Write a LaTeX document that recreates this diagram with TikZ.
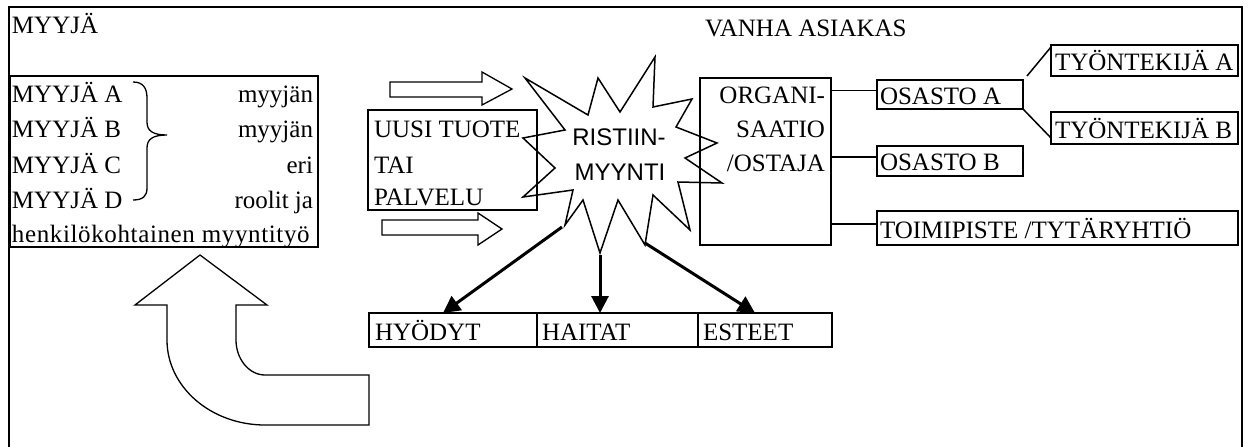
\documentclass[tikz,border=0pt]{standalone}
\usepackage{fontspec}
\setmainfont{Liberation Serif}
\newfontfamily\burstfont{Liberation Sans}
\usetikzlibrary{arrows.meta}
\begin{document}
\begin{tikzpicture}[x=1pt,y=-1pt,
  every node/.style={inner sep=0pt, outer sep=0pt},
  txt/.style={font=\fontsize{25}{30}\selectfont},
  lt/.style={txt, anchor=base west},
  rt/.style={txt, anchor=base east},
  bt/.style={font=\burstfont\fontsize{24}{28}\selectfont, anchor=base},
  cell/.style={draw, line width=2.5pt, anchor=north west},
  frame/.style={line width=2.8pt},
  link/.style={line width=1.5pt},
  burst/.style={line width=1.5pt, line join=miter},
  fat/.style={line width=3pt, -{Triangle[length=17pt,width=17pt]}},
  blockarrow/.style={draw, line width=1.3pt, line join=miter},
]
\useasboundingbox (0,0) rectangle (1250,447);

% outer frame, open at the bottom
\draw[frame] (9,447) -- (9,7) -- (1242,7) -- (1242,447);

% headings
\node[lt] (hSeller) at (12,33) {MYYJÄ};
\node[lt] (hCustomer) at (705,36) {VANHA ASIAKAS};

% sellers box
\node[cell, minimum width=308pt, minimum height=171pt] (sellers) at (10,76) {};
\node[lt] (sA) at (12,102) {MYYJÄ A};
\node[lt] (sB) at (12,137) {MYYJÄ B};
\node[lt] (sC) at (12,173) {MYYJÄ C};
\node[lt] (sD) at (12,208) {MYYJÄ D};
\node[lt] (sE) at (12,242) {\addfontfeature{LetterSpace=2.5}henkilökohtainen myyntityö};
\node[rt] (rA) at (313,102) {myyjän};
\node[rt] (rB) at (313,137) {myyjän};
\node[rt] (rC) at (313,173) {eri};
\node[rt] (rD) at (313,208) {roolit ja};
% curly brace
\draw[line width=1.3pt] (133,82) .. controls (143,82) and (147,88) .. (147,98)
  -- (147,122) .. controls (147,131) and (153,135) .. (167,135)
  .. controls (153,135) and (147,139) .. (147,148)
  -- (147,188) .. controls (147,196) and (143,200) .. (133,200);

% block arrows towards the burst
\draw[blockarrow] (390,82) -- (482,82) -- (482,72) -- (512,89) -- (482,105) -- (482,97) -- (390,97) -- cycle;
\draw[blockarrow] (382,220) -- (478,220) -- (478,213) -- (502,229) -- (478,245) -- (478,235) -- (382,235) -- cycle;

% new product box
\node[cell, minimum width=169pt, minimum height=100pt] (product) at (368,110) {};
\node[lt] (pA) at (374,137) {UUSI TUOTE};
\node[lt] (pB) at (374,173) {TAI};
\node[lt] (pC) at (374,205) {PALVELU};

% cross-selling burst
\draw[burst] (525,78) -- (588,115) -- (598,78) -- (620,112) -- (655,57) -- (653,107)
  -- (692,99) -- (676,127) -- (717,143) -- (685,158) -- (722,183) -- (678,182)
  -- (690,230) -- (653,195) -- (645,245) -- (618,200) -- (600,253) -- (583,200)
  -- (565,225) -- (573,190) -- (523,197) -- (555,168) -- (523,138) -- (565,130) -- cycle;
\node[bt] (burstA) at (619,145) {RISTIIN-};
\node[bt] (burstB) at (620,180) {MYYNTI};
\coordinate (tipL) at (562,227);
\coordinate (tipM) at (600,255);
\coordinate (tipR) at (645,243);

% organisation box
\node[cell, minimum width=131pt, minimum height=167pt] (org) at (700,78) {};
\node[rt] (oA) at (825,103) {ORGANI-};
\node[rt] (oB) at (825,137) {SAATIO};
\node[rt] (oC) at (825,171) {/OSTAJA};

% departments and employees
\node[cell, minimum width=146pt, minimum height=29pt] (osA) at (877,80) {};
\node[lt] at (880,104) {OSASTO A};
\node[cell, minimum width=146pt, minimum height=30pt] (osB) at (877,146) {};
\node[lt] at (880,170) {OSASTO B};
\node[cell, minimum width=187pt, minimum height=31pt] (tyA) at (1051,45) {};
\node[lt] at (1055,70) {TYÖNTEKIJÄ A};
\node[cell, minimum width=187pt, minimum height=32pt] (tyB) at (1051,112) {};
\node[lt] at (1055,138) {TYÖNTEKIJÄ B};
\node[cell, minimum width=361pt, minimum height=34pt] (office) at (877,211) {};
\node[lt] at (880,238) {TOIMIPISTE /TYTÄRYHTIÖ};

% connector ends, slightly above the middle of each box side
\coordinate (osAin) at ([yshift=4pt]osA.west);
\coordinate (osBin) at ([yshift=4pt]osB.west);
\coordinate (officein) at ([yshift=4pt]office.west);
\draw[link] (org.east |- osAin) -- (osAin);
\draw[link] (org.east |- osBin) -- (osBin);
\draw[link] (org.east |- officein) -- (officein);
\draw[link] ([shift={(4pt,4pt)}]osA.north east) -- ([yshift=-2pt]tyA.north west);
\draw[link] (osA.south east) -- ([yshift=6pt]tyB.south west);

% outcome boxes
\node[cell, minimum width=168pt, minimum height=34pt] (gain) at (369,313) {};
\node[lt] at (375,340) {HYÖDYT};
\node[cell, minimum width=161pt, minimum height=34pt] (harm) at (537,313) {};
\node[lt] at (542,340) {HAITAT};
\node[cell, minimum width=134pt, minimum height=34pt] (block) at (698,313) {};
\node[lt] at (703,340) {ESTEET};

\draw[fat] (tipL) -- ([xshift=-10pt]gain.north);
\draw[fat] (tipM) -- (tipM |- harm.north);
\draw[fat] (tipR) -- ([xshift=-10pt]block.north);

% U-turn block arrow back to the sellers
\draw[blockarrow] (200,255) -- (267,305) -- (236,305) -- (236,340)
  .. controls (236,359) and (249,375) .. (265,375) -- (369,375) -- (369,425) -- (265,425)
  .. controls (211,425) and (167,387) .. (167,340) -- (167,305) -- (135,305) -- cycle;
\end{tikzpicture}
\end{document}
